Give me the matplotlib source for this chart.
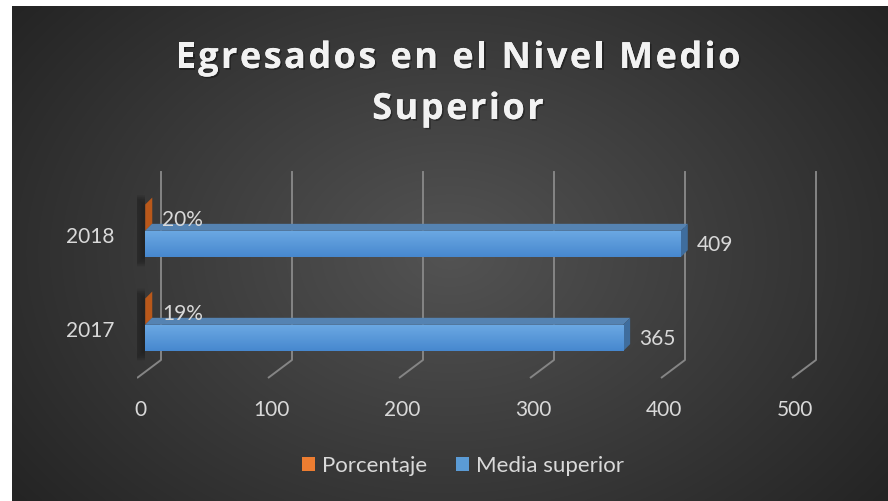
import numpy as np
import matplotlib
matplotlib.use("Agg")
import matplotlib.pyplot as plt
import matplotlib.patheffects as pe
from matplotlib.patches import Polygon, Rectangle, Patch
from matplotlib.font_manager import FontProperties

years = ["2017", "2018"]
media_superior = [365, 409]
porcentaje = [0.19, 0.20]
porcentaje_labels = ["19%", "20%"]
x_ticks = [0, 100, 200, 300, 400, 500]
title_lines = ["Egresados en el Nivel Medio", "Superior"]
series_names = ["Porcentaje", "Media superior"]

W, H = 888, 501
FONT = "Lato"
TXT = "#d9d9d9"

fig = plt.figure(figsize=(W / 100, H / 100), dpi=100)
fig.patch.set_facecolor("white")

# dark radial background of the chart area
bg = fig.add_axes([12 / W, 0, (W - 13) / W, (H - 6) / H])
yy, xx = np.mgrid[0:1:250j, 0:1:440j]
r = np.sqrt(((xx - 0.5) / 0.62) ** 2 + ((yy - 0.5) / 0.8) ** 2)
shade = np.clip(0.325 - 0.18 * r, 0.12, 0.4)
bg.imshow(np.dstack([shade] * 3), aspect="auto", extent=(0, 1, 0, 1), interpolation="bicubic")
bg.set_axis_off()

# plot axes: 1 data unit on x = 1.31 px, 1 category = 94 px
ax = fig.add_axes([137 / W, (H - 400) / H, 560 * 1.31 / W, 250 / H])
ax.set_xlim(0, 560)
ax.set_ylim(-0.66, 2.0)
ax.set_axis_off()
kx, ky = 1 / 1.31, 1 / 94

# perspective gridlines (floor diagonal + back wall)
back_dx = 24 * kx
for t in x_ticks:
    ax.plot([t, t + back_dx, t + back_dx], [-0.426, -0.234, 1.776],
            color="#858585", lw=1.4, solid_capstyle="butt", zorder=1)
    ax.text(t + 3 * kx, -0.77, str(t), color=TXT, fontsize=15, family=FONT,
            ha="center", va="center")

x0 = 8 * kx
dx, dy = 7 * kx, 7 * ky
h = 0.28
grad = np.linspace(0, 1, 50)[:, None]
blue_top = np.array([0x6c, 0xa9, 0xe3]) / 255
blue_bot = np.array([0x47, 0x88, 0xcf]) / 255
grad_rgb = blue_top[None, None, :] * (1 - grad[..., None]) + blue_bot[None, None, :] * grad[..., None]

for i, (yr, v, p, plab) in enumerate(zip(years, media_superior, porcentaje, porcentaje_labels)):
    yb = i
    # soft shadow left of the bars
    for k in range(14):
        w = (13 - k * 0.85) * kx
        pad = (10 - k * 0.7) * ky
        ax.add_patch(Rectangle((x0 - w, yb - h / 2 - pad), w, 2 * h + 2 * pad,
                               facecolor="black", edgecolor="none", alpha=0.024, zorder=2))
    # orange bar (tiny value) - end face visible
    yo = yb + h
    ax.add_patch(Polygon([(x0 + p, yo - h / 2), (x0 + p + dx, yo - h / 2 + dy),
                          (x0 + p + dx, yo + h / 2 + dy), (x0 + p, yo + h / 2)],
                         closed=True, facecolor="#b9581a", edgecolor="none", zorder=3))
    # blue bar: top face, side face, front face
    ax.add_patch(Polygon([(x0, yb + h / 2), (x0 + v, yb + h / 2),
                          (x0 + v + dx, yb + h / 2 + dy), (x0 + dx, yb + h / 2 + dy)],
                         closed=True, facecolor="#5583b2", edgecolor="none", zorder=4))
    ax.add_patch(Polygon([(x0 + v, yb - h / 2), (x0 + v + dx, yb - h / 2 + dy),
                          (x0 + v + dx, yb + h / 2 + dy), (x0 + v, yb + h / 2)],
                         closed=True, facecolor="#3f6d9d", edgecolor="none", zorder=4))
    front = Rectangle((x0, yb - h / 2), v, h, facecolor="none", edgecolor="none", zorder=5)
    ax.add_patch(front)
    im = ax.imshow(grad_rgb, extent=(x0, x0 + v, yb - h / 2, yb + h / 2),
                   aspect="auto", zorder=5, interpolation="bilinear")
    im.set_clip_path(front)
    # value labels
    ax.annotate(str(v), (x0 + v, yb), xytext=(16, -1), textcoords="offset pixels",
                color=TXT, fontsize=15, family=FONT, ha="left", va="center", zorder=6)
    ax.annotate(plab, (x0 + p, yo), xytext=(17, -2), textcoords="offset pixels",
                color=TXT, fontsize=15, family=FONT, ha="left", va="center", zorder=6)
    # category label
    ax.text(-17, yb + 0.07, yr, color=TXT, fontsize=15, family=FONT,
            ha="right", va="center")

ax.set_xlim(0, 560)
ax.set_ylim(-0.66, 2.0)

# title with letter spacing, drawn character by character
tprop = FontProperties(family="Open Sans", weight="bold", size=26)
renderer = fig.canvas.get_renderer()


def char_widths(s):
    return [renderer.get_text_width_height_descent(c, tprop, ismath=False)[0] for c in s]


w1 = char_widths(title_lines[0])
spacing = (565 - sum(w1)) / (len(w1) - 1)
shadow = [pe.withSimplePatchShadow(offset=(1.2, -1.2), shadow_rgbFace="black", alpha=0.35), pe.Normal()]
for line, base_y in zip(title_lines, [68, 119]):
    ws = char_widths(line)
    total = sum(ws) + spacing * (len(ws) - 1)
    x = 458 - total / 2
    for c, cw in zip(line, ws):
        fig.text(x / W, 1 - base_y / H, c, fontproperties=tprop, color="#f2f2f2",
                 ha="left", va="baseline", path_effects=shadow)
        x += cw + spacing

handles = [Patch(facecolor="#ed7d31"), Patch(facecolor="#5b9bd5")]
fig.legend(handles, series_names, loc="center", bbox_to_anchor=(463 / W, 1 - 466 / H),
           ncol=2, frameon=False, prop=FontProperties(family=FONT, size=16),
           labelcolor=TXT, handlelength=0.6, handleheight=0.6, handletextpad=0.3,
           columnspacing=1.3)

fig.savefig("out.png", dpi=100, facecolor=fig.get_facecolor())
